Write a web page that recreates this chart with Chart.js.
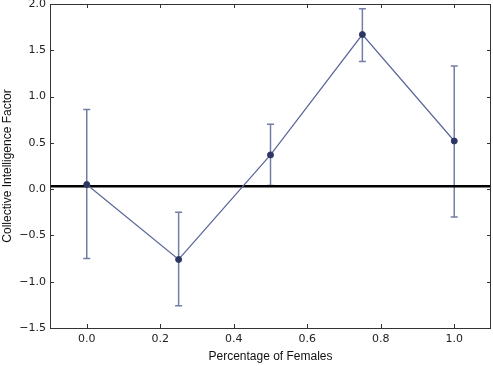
<!DOCTYPE html>
<html>
<head>
<meta charset="utf-8">
<script src="https://cdn.jsdelivr.net/npm/chart.js@4.4.1/dist/chart.umd.min.js"></script>
<style>
    html, body { margin: 0; padding: 0; background: #fff; }
    #wrap { width: 493px; height: 366px; }
</style>
</head>
<body>
<div id="wrap"><canvas id="myChart" width="493" height="366"></canvas></div>
<script>
// values
var xValues = [0.0, 0.25, 0.5, 0.75, 1.0];
var yValues = [0.05, -0.76, 0.37, 1.67, 0.52];
var errLow = [-0.75, -1.26, 0.04, 1.38, -0.30];
var errHigh = [0.86, -0.25, 0.70, 1.95, 1.33];
var baseline = 0.03;
var xTicks = [0.0, 0.2, 0.4, 0.6, 0.8, 1.0];
var yTicks = [-1.5, -1.0, -0.5, 0.0, 0.5, 1.0, 1.5, 2.0];

var fmt = function (v) {
    return v.toFixed(1).replace('-', '\u2212');
}

var points = xValues.map(function (x, i) { return {x: x, y: yValues[i]}; });

// error bars, inward ticks and the frame
var extras = {
    id: 'extras',
    beforeDatasetsDraw: function (chart) {
        var c = chart.ctx, xs = chart.scales.x, ys = chart.scales.y;
        c.save();
        c.strokeStyle = 'rgb(115,125,165)';
        c.lineWidth = 1.5;
        for (var i = 0; i < xValues.length; i++) {
            var px = xs.getPixelForValue(xValues[i]);
            var lo = ys.getPixelForValue(errLow[i]);
            var hi = ys.getPixelForValue(errHigh[i]);
            c.beginPath();
            c.moveTo(px, lo); c.lineTo(px, hi);
            c.moveTo(px - 3.5, lo); c.lineTo(px + 3.5, lo);
            c.moveTo(px - 3.5, hi); c.lineTo(px + 3.5, hi);
            c.stroke();
        }
        c.restore();
    },
    afterDraw: function (chart) {
        var c = chart.ctx, a = chart.chartArea, xs = chart.scales.x, ys = chart.scales.y;
        c.save();
        c.strokeStyle = '#333';
        c.lineWidth = 1;
        c.beginPath();
        xTicks.forEach(function (v) {
            var px = Math.round(xs.getPixelForValue(v)) + 0.5;
            c.moveTo(px, a.bottom); c.lineTo(px, a.bottom - 4);
            c.moveTo(px, a.top); c.lineTo(px, a.top + 4);
        });
        yTicks.forEach(function (v) {
            var py = Math.round(ys.getPixelForValue(v)) + 0.5;
            c.moveTo(a.left, py); c.lineTo(a.left + 4, py);
            c.moveTo(a.right, py); c.lineTo(a.right - 4, py);
        });
        c.stroke();
        c.strokeRect(Math.round(a.left) + 0.5, Math.round(a.top) + 0.5,
            Math.round(a.right - a.left) - 1, Math.round(a.bottom - a.top));
        c.restore();
    }
};

var ctx = document.getElementById("myChart");
var myChart = new Chart(ctx, {
    type: 'scatter',
    data: {
        datasets: [{
                data: points,
                showLine: true,
                borderColor: 'rgb(90,102,152)',
                borderWidth: 1.2,
                pointRadius: 3,
                pointBorderWidth: 1,
                pointBackgroundColor: 'rgb(45,55,100)',
                pointBorderColor: 'rgb(45,55,100)',
                order: 1
            }, {
                data: [{x: -0.1, y: baseline}, {x: 1.1, y: baseline}],
                showLine: true,
                borderColor: '#000',
                borderWidth: 2.5,
                pointRadius: 0,
                order: 2
            }]
    },
    plugins: [extras],
    options: {
        responsive: false,
        animation: false,
        layout: {autoPadding: false, padding: {top: 4, right: 2, left: 0, bottom: 0}},
        plugins: {legend: {display: false}, tooltip: {enabled: false}},
        scales: {
            x: {
                type: 'linear',
                min: -0.1,
                max: 1.1,
                afterBuildTicks: function (s) { s.ticks = xTicks.map(function (v) { return {value: v}; }); },
                afterFit: function (s) { s.height = 38; s.paddingLeft = 0; s.paddingRight = 0; },
                grid: {display: false, drawTicks: false},
                border: {display: false},
                ticks: {
                    padding: 5,
                    color: '#222',
                    font: {family: 'DejaVu Sans', size: 11},
                    callback: function (v) { return fmt(v); }
                },
                title: {
                    display: true,
                    text: 'Percentage of Females',
                    color: '#111',
                    font: {family: 'Liberation Sans', size: 12},
                    padding: {top: 0, bottom: 2}
                }
            },
            y: {
                min: -1.5,
                max: 2.0,
                afterBuildTicks: function (s) { s.ticks = yTicks.map(function (v) { return {value: v}; }); },
                afterFit: function (s) { s.width = 50; s.paddingTop = 0; s.paddingBottom = 0; },
                grid: {display: false, drawTicks: false},
                border: {display: false},
                ticks: {
                    padding: 4,
                    color: '#222',
                    font: {family: 'DejaVu Sans', size: 11},
                    callback: function (v) { return fmt(v); }
                },
                title: {
                    display: true,
                    text: 'Collective Intelligence Factor',
                    color: '#111',
                    font: {family: 'Liberation Sans', size: 12},
                    padding: 0
                }
            }
        }
    }
});
</script>
</body>
</html>
